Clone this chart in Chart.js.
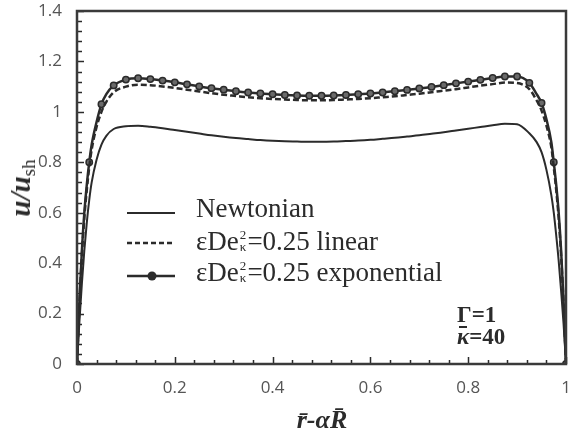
<!DOCTYPE html>
<html>
<head>
<meta charset="utf-8">
<script src="https://cdn.jsdelivr.net/npm/chart.js@4.4.1/dist/chart.umd.min.js"></script>
<style>
  html, body { margin: 0; padding: 0; background: #fff; }
  #wrap { position: relative; width: 579px; height: 436px; }
  #chart { position: absolute; left: 0; top: 0; }
  .txt { position: absolute; font-family: 'Liberation Serif', 'Times New Roman', serif; color: #2b2b2b; line-height: 1; white-space: nowrap; }
  .leg { font-size: 27px; }
  .ss { display: inline-block; vertical-align: middle; font-size: 13px; line-height: 12px; text-align: left; margin: 0 1px; position: relative; top: -3px; }
  .ss span { display: block; }
  .note { font-size: 23px; font-weight: bold; }
  .bar { position: relative; display: inline-block; }
  .bar::before { content: ''; position: absolute; left: 2px; top: 1px; width: 8px; height: 2px; background: #2b2b2b; }
  .ytitle { font-size: 29px; font-weight: bold; font-style: italic; transform: translate(-50%, -50%) rotate(-90deg); }
  .ytitle sub { font-size: 19px; font-weight: normal; font-style: normal; vertical-align: -5px; }
  .xtitle { font-size: 26px; font-weight: bold; font-style: italic; transform: translate(-50%, -50%); }
</style>
</head>
<body>
<div id="wrap">
  <canvas id="chart" width="579" height="436"></canvas>
  <div class="txt ytitle" style="left:22px; top:188px;">u/u<sub>sh</sub></div>
  <div class="txt xtitle" style="left:322px; top:420px;">r&#772;-&alpha;R&#772;</div>
  <div class="txt leg" style="left:196px; top:195px;">Newtonian</div>
  <div class="txt leg" style="left:196px; top:228px;">&epsilon;De<span class="ss"><span>2</span><span>&kappa;</span></span>=0.25 linear</div>
  <div class="txt leg" style="left:196px; top:259px;">&epsilon;De<span class="ss"><span>2</span><span>&kappa;</span></span>=0.25 exponential</div>
  <div class="txt note" style="left:457px; top:303px;">&Gamma;=1</div>
  <div class="txt note" style="left:457px; top:325px;"><i class="bar">&kappa;</i>=40</div>
</div>
<script>
// r - alpha*R positions across the channel
const xs = [0, 0.005, 0.01, 0.015, 0.02, 0.025, 0.03, 0.04, 0.05, 0.06, 0.075,
  0.1, 0.125, 0.15, 0.175, 0.2, 0.225, 0.25, 0.275, 0.3, 0.325, 0.35, 0.375, 0.4,
  0.425, 0.45, 0.475, 0.5, 0.525, 0.55, 0.575, 0.6, 0.625, 0.65, 0.675, 0.7, 0.725,
  0.75, 0.775, 0.8, 0.825, 0.85, 0.875, 0.9, 0.925, 0.94, 0.95, 0.96, 0.97, 0.975,
  0.98, 0.985, 0.99, 0.995, 1];

const newtonian = [0, 0.17, 0.32, 0.45, 0.56, 0.65, 0.72, 0.81, 0.87, 0.905, 0.932,
  0.943, 0.945, 0.941, 0.935, 0.928, 0.921, 0.914, 0.907, 0.901, 0.896, 0.892, 0.888, 0.885,
  0.883, 0.882, 0.881, 0.881, 0.882, 0.884, 0.886, 0.889, 0.893, 0.897, 0.902, 0.907, 0.913,
  0.919, 0.926, 0.933, 0.94, 0.947, 0.953, 0.951, 0.915, 0.88, 0.84, 0.77, 0.67, 0.6,
  0.51, 0.41, 0.29, 0.16, 0];

const linear = [0, 0.24, 0.43, 0.58, 0.69, 0.78, 0.85, 0.94, 1.0, 1.04, 1.078,
  1.1, 1.108, 1.106, 1.101, 1.095, 1.088, 1.081, 1.074, 1.068, 1.063, 1.058, 1.054, 1.051,
  1.049, 1.047, 1.046, 1.046, 1.047, 1.049, 1.051, 1.054, 1.058, 1.062, 1.067, 1.072, 1.078,
  1.084, 1.09, 1.097, 1.104, 1.11, 1.116, 1.114, 1.09, 1.045, 1.005, 0.945, 0.86, 0.78,
  0.69, 0.58, 0.43, 0.24, 0];

const exponential = [0, 0.25, 0.45, 0.6, 0.71, 0.8, 0.87, 0.96, 1.03, 1.07, 1.105,
  1.128, 1.133, 1.13, 1.124, 1.117, 1.109, 1.101, 1.094, 1.088, 1.082, 1.077, 1.073, 1.07,
  1.067, 1.065, 1.064, 1.064, 1.065, 1.067, 1.07, 1.073, 1.077, 1.082, 1.087, 1.093, 1.099,
  1.106, 1.113, 1.12, 1.127, 1.134, 1.14, 1.14, 1.115, 1.07, 1.035, 0.97, 0.88, 0.8,
  0.71, 0.6, 0.45, 0.25, 0];

const xTicks = [0, 0.2, 0.4, 0.6, 0.8, 1];
const yTicks = [0, 0.2, 0.4, 0.6, 0.8, 1, 1.2, 1.4];

const ink = '#2b2b2b';

function pts(ys) {
  return xs.map((x, i) => ({ x: x, y: ys[i] }));
}

// markers on the exponential curve every 0.025
function markerRadius(ctx) {
  const x = xs[ctx.dataIndex];
  const k = x * 40;
  return Math.abs(k - Math.round(k)) < 1e-6 ? 3.2 : 0;
}

// inward ticks, plot frame and legend samples
const framePlugin = {
  id: 'frame',
  afterDraw(chart) {
    const { ctx, chartArea: a, scales } = chart;
    ctx.save();
    ctx.strokeStyle = ink;
    ctx.lineWidth = 1.5;
    ctx.beginPath();
    for (let i = 0; i <= 25; i++) {
      const v = i * 0.04;
      const px = Math.round(scales.x.getPixelForValue(v)) + 0.5;
      const len = (i % 5 === 0) ? 7 : 4;
      ctx.moveTo(px, a.bottom);
      ctx.lineTo(px, a.bottom - len);
    }
    for (let i = 0; i <= 35; i++) {
      const v = i * 0.04;
      const py = Math.round(scales.y.getPixelForValue(v)) + 0.5;
      const len = (i % 5 === 0) ? 7 : 5;
      ctx.moveTo(a.left, py);
      ctx.lineTo(a.left + len, py);
    }
    ctx.stroke();

    ctx.lineWidth = 2.5;
    ctx.strokeStyle = '#3a3a3a';
    ctx.strokeRect(a.left, a.top, a.right - a.left, a.bottom - a.top);

    // legend samples
    ctx.strokeStyle = ink;
    ctx.lineWidth = 2;
    ctx.beginPath();
    ctx.moveTo(127, 213); ctx.lineTo(175, 213);
    ctx.stroke();
    ctx.setLineDash([5, 3]);
    ctx.lineWidth = 2.5;
    ctx.beginPath();
    ctx.moveTo(127, 243); ctx.lineTo(175, 243);
    ctx.stroke();
    ctx.setLineDash([]);
    ctx.beginPath();
    ctx.moveTo(127, 276); ctx.lineTo(175, 276);
    ctx.stroke();
    ctx.fillStyle = ink;
    ctx.beginPath();
    ctx.arc(152, 276, 4.5, 0, Math.PI * 2);
    ctx.fill();
    ctx.restore();
  }
};

const tickFont = { family: 'Open Sans', size: 17 };

new Chart(document.getElementById('chart').getContext('2d'), {
  type: 'line',
  data: {
    datasets: [
      {
        label: 'Newtonian',
        data: pts(newtonian),
        borderColor: ink,
        borderWidth: 2,
        pointRadius: 0,
        cubicInterpolationMode: 'monotone'
      },
      {
        label: 'linear',
        data: pts(linear),
        borderColor: ink,
        borderWidth: 2.5,
        borderDash: [6, 3],
        pointRadius: 0,
        cubicInterpolationMode: 'monotone'
      },
      {
        label: 'exponential',
        data: pts(exponential),
        borderColor: ink,
        borderWidth: 2.5,
        pointRadius: markerRadius,
        pointBorderWidth: 1.5,
        pointBorderColor: ink,
        pointBackgroundColor: '#6a6a6a',
        cubicInterpolationMode: 'monotone'
      }
    ]
  },
  options: {
    responsive: false,
    animation: false,
    layout: { padding: { top: 11, right: 13, left: 0, bottom: 0 } },
    plugins: {
      legend: { display: false },
      tooltip: { enabled: false }
    },
    scales: {
      x: {
        type: 'linear',
        min: 0,
        max: 1,
        afterFit(scale) {
          scale.height = 72;
          scale.paddingLeft = 0;
          scale.paddingRight = 0;
        },
        afterBuildTicks(scale) { scale.ticks = xTicks.map(v => ({ value: v })); },
        grid: { display: false, drawTicks: false },
        border: { display: false },
        ticks: {
          padding: 14,
          color: '#555',
          font: tickFont,
          callback: v => String(v)
        }
      },
      y: {
        min: 0,
        max: 1.4,
        afterFit(scale) {
          scale.width = 77;
          scale.paddingTop = 0;
          scale.paddingBottom = 0;
        },
        afterBuildTicks(scale) { scale.ticks = yTicks.map(v => ({ value: v })); },
        grid: { display: false, drawTicks: false },
        border: { display: false },
        ticks: {
          padding: 15,
          color: '#555',
          font: tickFont,
          callback: v => String(v)
        }
      }
    }
  },
  plugins: [framePlugin]
});
</script>
</body>
</html>
